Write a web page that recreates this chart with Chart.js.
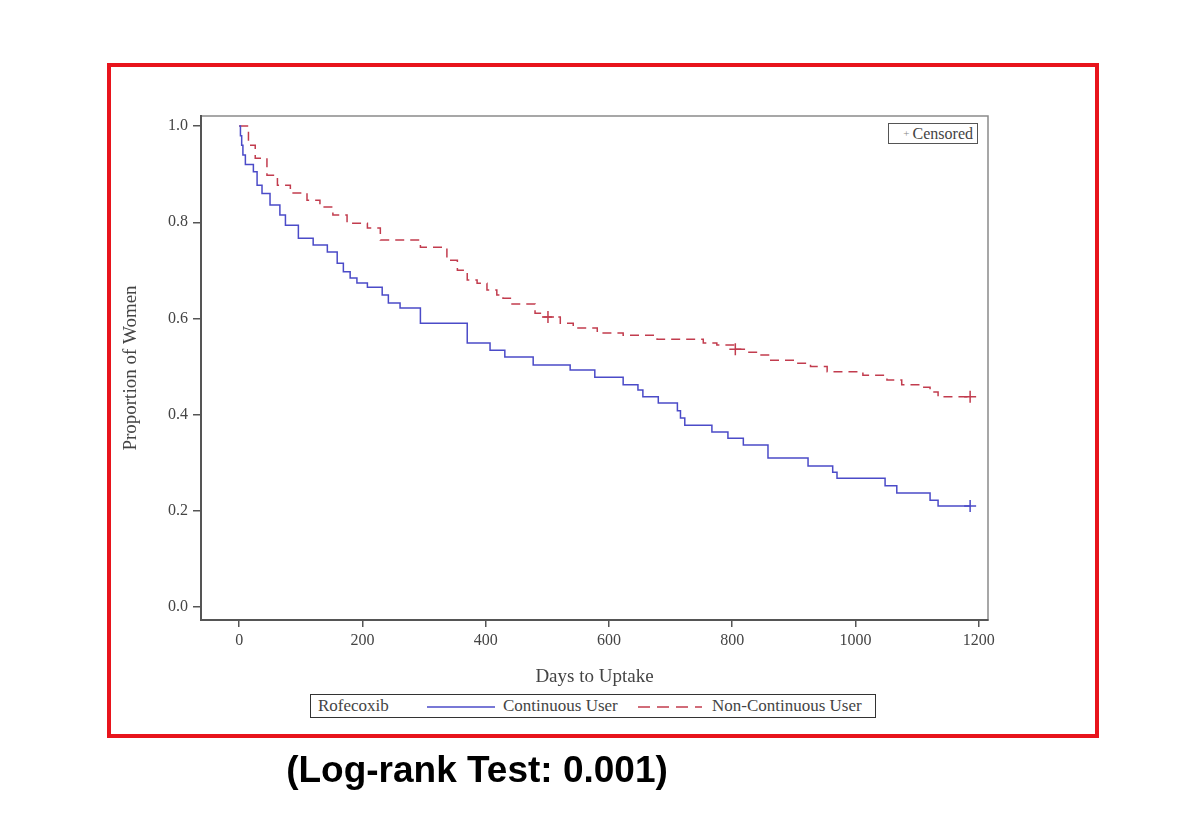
<!DOCTYPE html>
<html>
<head>
<meta charset="utf-8">
<script src="https://cdn.jsdelivr.net/npm/chart.js@4.4.1/dist/chart.umd.min.js"></script>
<style>
    body { margin: 0; background: #fff; width: 1200px; height: 819px; position: relative; overflow: hidden; font-family: "Liberation Serif", "Times New Roman", serif; color: #444; }
    #grafico { position: absolute; left: 0; top: 0; }
    #marco { position: absolute; left: 107px; top: 63px; width: 992px; height: 675px; border: 4px solid #e8141c; box-sizing: border-box; }
    #censurado { position: absolute; left: 888px; top: 123px; width: 90px; height: 21px; border: 1.5px solid #555; box-sizing: border-box; font-size: 16px; line-height: 18px; text-align: right; padding-right: 4px; background: #fff; }
    #censurado span { font-size: 11px; color: #888; margin-right: 3px; vertical-align: 2px; }
    #leyenda { position: absolute; left: 310px; top: 694px; width: 566px; height: 24px; border: 1.5px solid #333; box-sizing: border-box; font-size: 17px; background: #fff; }
    #leyenda .txt { position: absolute; top: 1px; line-height: 20px; white-space: nowrap; }
    #leyenda svg { position: absolute; top: 10px; }
    #subtitulo { position: absolute; left: 0; top: 748px; width: 954px; text-align: center; font-family: "Liberation Sans", Arial, sans-serif; font-weight: bold; font-size: 37px; line-height: 44px; color: #000; }
</style>
</head>
<body>
<canvas id="grafico" width="1200" height="819"></canvas>
<div id="marco"></div>
<div id="censurado"><span>+</span>Censored</div>
<div id="leyenda">
    <div class="txt" style="left:7px">Rofecoxib</div>
    <svg style="left:116px" width="68" height="4"><line x1="0" y1="2" x2="68" y2="2" stroke="#4b4bc8" stroke-width="1.5"/></svg>
    <div class="txt" style="left:192px">Continuous User</div>
    <svg style="left:327px" width="64" height="4"><line x1="0" y1="2" x2="64" y2="2" stroke="#c23c4e" stroke-width="1.5" stroke-dasharray="12,7"/></svg>
    <div class="txt" style="left:401px">Non-Continuous User</div>
</div>
<div id="subtitulo">(Log-rank Test: 0.001)</div>

<script>
// Datos (dias, proporcion)
const diasContinuo = [0, 2, 4, 6, 10, 23, 29, 37, 50, 66, 75, 96, 120, 143, 159, 169, 180, 191, 208, 232, 242, 261, 294,
                      370, 407, 431, 477, 537, 577, 623, 647, 655, 680, 711, 716, 723, 767, 793, 818, 858, 923, 963,
                      970, 1048, 1067, 1121, 1134, 1186];
const propContinuo = [1.0, 0.98, 0.96, 0.94, 0.92, 0.905, 0.877, 0.86, 0.836, 0.815, 0.794, 0.767, 0.753, 0.738, 0.715,
                      0.697, 0.684, 0.674, 0.665, 0.649, 0.632, 0.622, 0.59, 0.549, 0.534, 0.52, 0.503, 0.493, 0.478,
                      0.462, 0.451, 0.437, 0.424, 0.408, 0.393, 0.378, 0.364, 0.351, 0.337, 0.31, 0.293, 0.28, 0.268,
                      0.252, 0.237, 0.222, 0.21, 0.21];

const diasNoContinuo = [0, 15, 26, 45, 62, 83, 110, 131, 152, 175, 208, 229, 294, 337, 354, 370, 386, 402, 418, 428, 440,
                        480, 493, 521, 542, 581, 623, 678, 753, 775, 805, 824, 845, 861, 899, 927, 954, 1012, 1051, 1075,
                        1109, 1121, 1134, 1186];
const propNoContinuo = [1.0, 0.96, 0.933, 0.898, 0.877, 0.861, 0.846, 0.832, 0.815, 0.798, 0.788, 0.763, 0.748, 0.721,
                        0.70, 0.68, 0.673, 0.659, 0.649, 0.642, 0.63, 0.611, 0.603, 0.59, 0.58, 0.57, 0.565, 0.557, 0.549,
                        0.545, 0.536, 0.53, 0.524, 0.513, 0.507, 0.5, 0.489, 0.482, 0.472, 0.462, 0.457, 0.447, 0.437, 0.437];

// Marcas de censura
const censuraContinuoDias = [1186];
const censuraContinuoProp = [0.21];
const censuraNoContinuoDias = [501, 805, 1186];
const censuraNoContinuoProp = [0.603, 0.536, 0.437];

const ticksX = [0, 200, 400, 600, 800, 1000, 1200];
const ticksY = [0.0, 0.2, 0.4, 0.6, 0.8, 1.0];

const azul = "#4b4bc8";
const rojo = "#c23c4e";
const gris = "#444";

function puntos(xs, ys) {
    return xs.map((x, i) => ({ x: x, y: ys[i] }));
}

// Marco gris alrededor del area del grafico
const marcoArea = {
    id: "marcoArea",
    beforeDraw(chart) {
        const a = chart.chartArea;
        const ctx = chart.ctx;
        ctx.save();
        ctx.strokeStyle = "#8a8a8a";
        ctx.lineWidth = 1.5;
        ctx.strokeRect(a.left, a.top, a.right - a.left, a.bottom - a.top);
        ctx.restore();
    }
};

const canvas = document.getElementById("grafico").getContext("2d");
new Chart(canvas, {
    type: "line",
    data: {
        datasets: [
            {
                label: "Continuous User",
                data: puntos(diasContinuo, propContinuo),
                borderColor: azul,
                borderWidth: 1.5,
                stepped: "before",
                pointRadius: 0,
                fill: false
            },
            {
                label: "Non-Continuous User",
                data: puntos(diasNoContinuo, propNoContinuo),
                borderColor: rojo,
                borderWidth: 1.5,
                borderDash: [9, 6],
                stepped: "before",
                pointRadius: 0,
                fill: false
            },
            {
                label: "Censored",
                data: puntos(censuraContinuoDias, censuraContinuoProp),
                showLine: false,
                pointStyle: "cross",
                pointRadius: 6,
                borderColor: azul,
                pointBorderWidth: 1.5
            },
            {
                label: "Censored",
                data: puntos(censuraNoContinuoDias, censuraNoContinuoProp),
                showLine: false,
                pointStyle: "cross",
                pointRadius: 6,
                borderColor: rojo,
                pointBorderWidth: 1.5
            }
        ]
    },
    options: {
        responsive: false,
        animation: false,
        layout: { padding: { left: 120, top: 116, right: 212, bottom: 129 } },
        plugins: {
            legend: { display: false },
            tooltip: { enabled: false }
        },
        scales: {
            x: {
                type: "linear",
                min: -62,
                max: 1215,
                afterBuildTicks: (escala) => { escala.ticks = ticksX.map(v => ({ value: v })); },
                afterFit: (escala) => { escala.height = 70; },
                ticks: { color: gris, font: { family: "Liberation Serif", size: 16 }, padding: 4, maxRotation: 0, callback: (v) => String(v) },
                grid: { drawOnChartArea: false, drawTicks: true, tickLength: 7, color: "#555", lineWidth: 1.5 },
                border: { display: true, color: "#555", width: 2 },
                title: { display: true, text: "Days to Uptake", color: gris, font: { family: "Liberation Serif", size: 19 }, padding: { top: 4, bottom: 2 } }
            },
            y: {
                type: "linear",
                min: -0.027,
                max: 1.021,
                afterBuildTicks: (escala) => { escala.ticks = ticksY.map(v => ({ value: v })); },
                afterFit: (escala) => { escala.width = 81; },
                ticks: { color: gris, font: { family: "Liberation Serif", size: 16 }, padding: 5, callback: (v) => Number(v).toFixed(1) },
                grid: { drawOnChartArea: false, drawTicks: true, tickLength: 8, color: "#555", lineWidth: 1.5 },
                border: { display: true, color: "#555", width: 2 },
                title: { display: true, text: "Proportion of Women", color: gris, font: { family: "Liberation Serif", size: 19 }, padding: { top: 0, bottom: 4 } }
            }
        }
    },
    plugins: [marcoArea]
});
</script>
</body>
</html>
